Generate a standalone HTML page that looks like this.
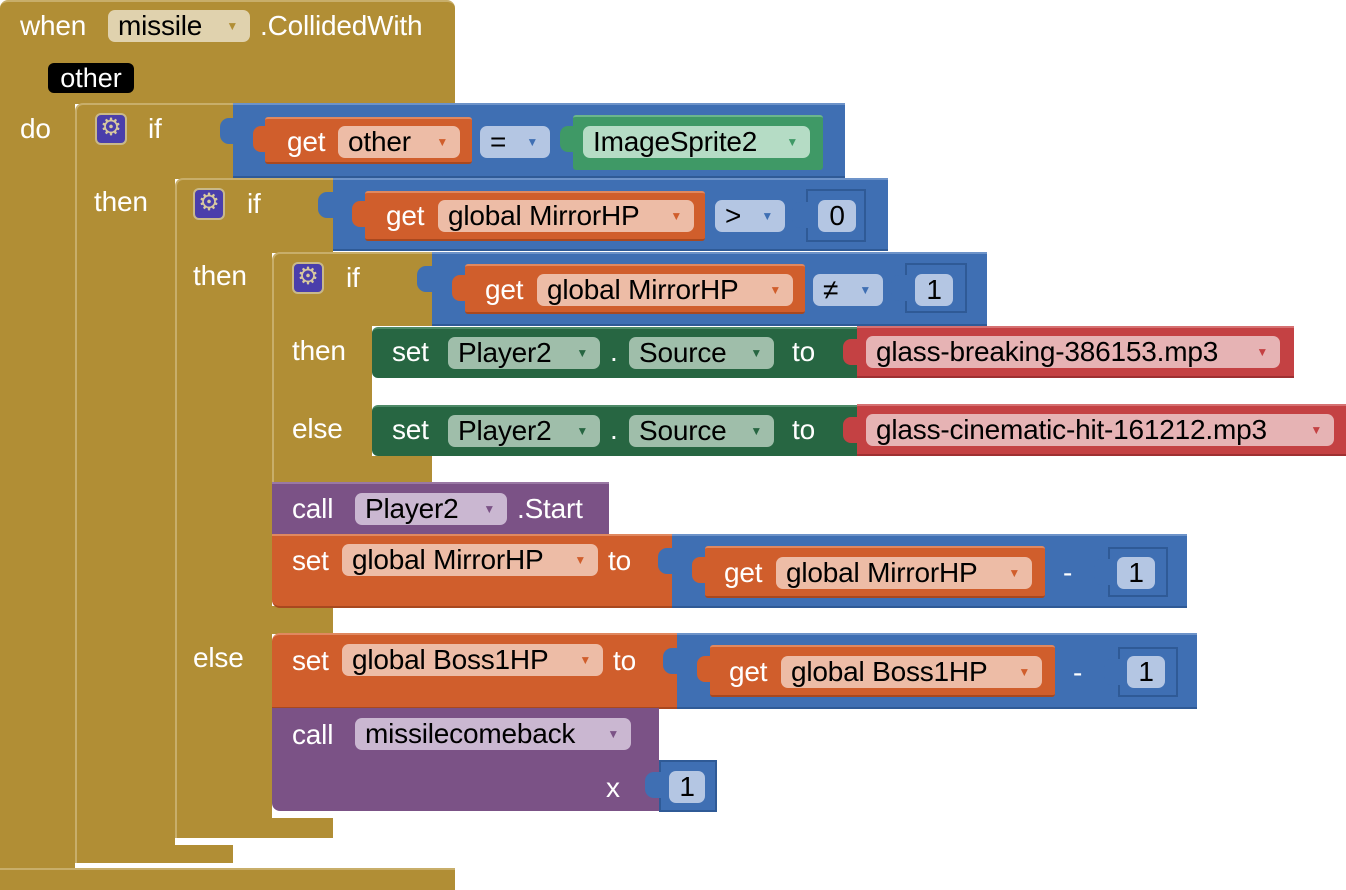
<!DOCTYPE html>
<html><head><meta charset="utf-8"><style>
body{margin:0;width:1346px;height:890px;background:#fff;position:relative;overflow:hidden;font-family:"Liberation Sans",sans-serif;}
div{position:absolute;box-sizing:border-box}
.g{background:#B18E35}
.bl{background:#3F6FB3;border-top:2px solid #6d93c9;border-bottom:2px solid #2f5a96}
.or{background:#D05E2C;border-top:2px solid #e0885f;border-bottom:2px solid #a8481f;border-radius:3px}
.gr{background:#276642;border-top:2px solid #4e8a68}
.rd{background:#C44143;border-top:2px solid #d67172;border-bottom:2px solid #9e3032}
.pu{background:#7B5286;border-top:2px solid #9a78a4}
.w{color:#fff;font-size:28px;line-height:30px;white-space:nowrap;letter-spacing:-0.2px}
.p{border-radius:7px;color:#000;font-size:28px;line-height:32px;height:32px;padding:0 10px;white-space:nowrap;letter-spacing:-0.2px}
.p i{position:absolute;right:12px;top:0;font-style:normal;font-size:12px;line-height:32px}
.gear{width:32px;height:32px;background:#4A3EAB;border:2px solid #c9b98a;border-radius:6px;color:#d8c99f;font-size:24px;line-height:26px;text-align:center}
.num{background:#3F6FB3;border:2px solid #2f5a96;}
.tb{width:16px;height:26px;background:#3F6FB3;border-radius:8px 0 0 8px}
</style></head><body>
<!-- event block -->
<div class="g" style="left:0;top:0;width:455px;height:104px;border-radius:8px 8px 0 0;border-top:2px solid #c8ae6a"></div>
<div class="g" style="left:0;top:100px;width:75px;height:790px"></div>
<div class="g" style="left:0;top:868px;width:455px;height:22px;border-top:2px solid #c8ae6a"></div>
<div class="w" style="left:20px;top:11px">when</div>
<div class="p" style="left:108px;top:10px;background:#E0D2AE;width:142px">missile<i style="color:#B18E35">▼</i></div>
<div class="w" style="left:260px;top:11px">.CollidedWith</div>
<div style="left:48px;top:63px;width:86px;height:30px;background:#000;border-radius:6px;color:#fff;font-size:27px;line-height:30px;text-align:center">other</div>
<div class="w" style="left:20px;top:114px">do</div>

<!-- if1 -->
<div class="g" style="left:75px;top:103px;width:160px;height:76px;border-radius:8px 0 0 0;border-top:2px solid #c8ae6a;border-left:2px solid #c8ae6a"></div>
<div class="g" style="left:75px;top:178px;width:100px;height:670px;border-left:2px solid #c8ae6a"></div>
<div class="g" style="left:75px;top:845px;width:158px;height:18px;border-left:2px solid #c8ae6a"></div>
<div class="gear" style="left:95px;top:113px">⚙</div>
<div class="w" style="left:148px;top:114px">if</div>
<div class="w" style="left:94px;top:187px">then</div>
<!-- if1 condition -->
<div class="bl" style="left:233px;top:103px;width:612px;height:75px"></div>
<div style="left:220px;top:118px;width:18px;height:26px;background:#3F6FB3;border-radius:9px 0 0 9px"></div>
<div class="or" style="left:265px;top:117px;width:207px;height:47px"></div>
<div style="left:253px;top:126px;width:15px;height:26px;background:#D05E2C;border-radius:8px 0 0 8px"></div>
<div class="w" style="left:287px;top:127px">get</div>
<div class="p" style="left:338px;top:126px;background:#EDBCA6;width:122px">other<i style="color:#D05E2C">▼</i></div>
<div class="p" style="left:480px;top:126px;background:#B4C6E3;width:70px">=<i style="color:#3F6FB3">▼</i></div>
<div style="left:573px;top:115px;width:250px;height:55px;background:#3F9966;border-radius:3px;border-top:2px solid #6bb68c"></div>
<div style="left:560px;top:126px;width:15px;height:26px;background:#3F9966;border-radius:8px 0 0 8px"></div>
<div class="p" style="left:583px;top:126px;background:#B5DCC5;width:227px">ImageSprite2<i style="color:#3F9966">▼</i></div>

<!-- if2 -->
<div class="g" style="left:175px;top:178px;width:158px;height:75px;border-radius:8px 0 0 0;border-top:2px solid #c8ae6a;border-left:2px solid #c8ae6a"></div>
<div class="g" style="left:175px;top:252px;width:97px;height:570px;border-left:2px solid #c8ae6a"></div>
<div class="g" style="left:272px;top:606px;width:61px;height:28px"></div>
<div class="g" style="left:175px;top:818px;width:158px;height:20px;border-left:2px solid #c8ae6a"></div>
<div class="gear" style="left:193px;top:188px">⚙</div>
<div class="w" style="left:247px;top:189px">if</div>
<div class="w" style="left:193px;top:261px">then</div>
<div class="w" style="left:193px;top:643px">else</div>
<div class="bl" style="left:333px;top:178px;width:555px;height:73px"></div>
<div style="left:318px;top:192px;width:18px;height:26px;background:#3F6FB3;border-radius:9px 0 0 9px"></div>
<div class="or" style="left:365px;top:191px;width:340px;height:50px"></div>
<div style="left:352px;top:201px;width:15px;height:26px;background:#D05E2C;border-radius:8px 0 0 8px"></div>
<div class="w" style="left:386px;top:201px">get</div>
<div class="p" style="left:438px;top:200px;background:#EDBCA6;width:256px">global MirrorHP<i style="color:#D05E2C">▼</i></div>
<div class="p" style="left:715px;top:200px;background:#B4C6E3;width:70px">&gt;<i style="color:#3F6FB3">▼</i></div>
<div class="num" style="left:806px;top:189px;width:60px;height:53px"></div>
<div class="tb" style="left:792px;top:202px"></div>
<div class="p" style="left:818px;top:200px;background:#B4C6E3;width:38px;padding:0;text-align:center">0</div>

<!-- if3 -->
<div class="g" style="left:272px;top:252px;width:160px;height:74px;border-radius:8px 0 0 0;border-top:2px solid #c8ae6a;border-left:2px solid #c8ae6a"></div>
<div class="g" style="left:272px;top:325px;width:100px;height:140px;border-left:2px solid #c8ae6a"></div>
<div class="g" style="left:272px;top:456px;width:160px;height:26px;border-left:2px solid #c8ae6a"></div>
<div class="gear" style="left:292px;top:262px">⚙</div>
<div class="w" style="left:346px;top:263px">if</div>
<div class="w" style="left:292px;top:336px">then</div>
<div class="w" style="left:292px;top:414px">else</div>
<div class="bl" style="left:432px;top:252px;width:555px;height:74px"></div>
<div style="left:417px;top:266px;width:18px;height:26px;background:#3F6FB3;border-radius:9px 0 0 9px"></div>
<div class="or" style="left:465px;top:264px;width:340px;height:50px"></div>
<div style="left:452px;top:275px;width:15px;height:26px;background:#D05E2C;border-radius:8px 0 0 8px"></div>
<div class="w" style="left:485px;top:275px">get</div>
<div class="p" style="left:537px;top:274px;background:#EDBCA6;width:256px">global MirrorHP<i style="color:#D05E2C">▼</i></div>
<div class="p" style="left:813px;top:274px;background:#B4C6E3;width:70px">≠<i style="color:#3F6FB3">▼</i></div>
<div class="num" style="left:905px;top:263px;width:62px;height:50px"></div>
<div class="tb" style="left:891px;top:275px"></div>
<div class="p" style="left:915px;top:274px;background:#B4C6E3;width:38px;padding:0;text-align:center">1</div>

<!-- then set -->
<div class="gr" style="left:372px;top:327px;width:486px;height:51px;border-radius:6px 0 0 6px"></div>
<div class="w" style="left:392px;top:337px">set</div>
<div class="p" style="left:448px;top:337px;background:#9FBEAA;width:152px">Player2<i style="color:#276642">▼</i></div>
<div class="w" style="left:610px;top:337px">.</div>
<div class="p" style="left:629px;top:337px;background:#9FBEAA;width:145px">Source<i style="color:#276642">▼</i></div>
<div class="w" style="left:792px;top:337px">to</div>
<div class="rd" style="left:857px;top:326px;width:437px;height:52px"></div>
<div style="left:843px;top:339px;width:16px;height:26px;background:#C44143;border-radius:8px 0 0 8px"></div>
<div class="p" style="left:866px;top:336px;background:#E6B3B4;width:414px">glass-breaking-386153.mp3<i style="color:#C44143">▼</i></div>
<!-- else set -->
<div class="gr" style="left:372px;top:405px;width:486px;height:51px;border-radius:6px 0 0 6px"></div>
<div class="w" style="left:392px;top:415px">set</div>
<div class="p" style="left:448px;top:415px;background:#9FBEAA;width:152px">Player2<i style="color:#276642">▼</i></div>
<div class="w" style="left:610px;top:415px">.</div>
<div class="p" style="left:629px;top:415px;background:#9FBEAA;width:145px">Source<i style="color:#276642">▼</i></div>
<div class="w" style="left:792px;top:415px">to</div>
<div class="rd" style="left:857px;top:404px;width:489px;height:52px"></div>
<div style="left:843px;top:417px;width:16px;height:26px;background:#C44143;border-radius:8px 0 0 8px"></div>
<div class="p" style="left:866px;top:414px;background:#E6B3B4;width:468px">glass-cinematic-hit-161212.mp3<i style="color:#C44143">▼</i></div>

<!-- call Player2.Start -->
<div class="pu" style="left:272px;top:482px;width:337px;height:53px"></div>
<div class="w" style="left:292px;top:494px">call</div>
<div class="p" style="left:355px;top:493px;background:#CAB7D1;width:152px">Player2<i style="color:#7B5286">▼</i></div>
<div class="w" style="left:517px;top:494px">.Start</div>
<!-- set MirrorHP -->
<div class="or" style="left:272px;top:534px;width:402px;height:74px;border-radius:0 0 0 8px"></div>
<div class="w" style="left:292px;top:546px">set</div>
<div class="p" style="left:342px;top:544px;background:#EDBCA6;width:256px">global MirrorHP<i style="color:#D05E2C">▼</i></div>
<div class="w" style="left:608px;top:546px">to</div>
<div class="bl" style="left:672px;top:534px;width:515px;height:74px"></div>
<div style="left:658px;top:548px;width:18px;height:26px;background:#3F6FB3;border-radius:9px 0 0 9px"></div>
<div class="or" style="left:705px;top:546px;width:340px;height:52px"></div>
<div style="left:692px;top:557px;width:15px;height:26px;background:#D05E2C;border-radius:8px 0 0 8px"></div>
<div class="w" style="left:724px;top:558px">get</div>
<div class="p" style="left:776px;top:557px;background:#EDBCA6;width:256px">global MirrorHP<i style="color:#D05E2C">▼</i></div>
<div class="w" style="left:1063px;top:558px">-</div>
<div class="num" style="left:1108px;top:547px;width:60px;height:50px"></div>
<div class="tb" style="left:1094px;top:559px"></div>
<div class="p" style="left:1117px;top:557px;background:#B4C6E3;width:38px;padding:0;text-align:center">1</div>
<!-- set Boss1HP -->
<div class="or" style="left:272px;top:633px;width:406px;height:76px;border-radius:8px 0 0 0"></div>
<div class="w" style="left:292px;top:646px">set</div>
<div class="p" style="left:342px;top:644px;background:#EDBCA6;width:261px">global Boss1HP<i style="color:#D05E2C">▼</i></div>
<div class="w" style="left:613px;top:646px">to</div>
<div class="bl" style="left:677px;top:633px;width:520px;height:76px"></div>
<div style="left:663px;top:648px;width:18px;height:26px;background:#3F6FB3;border-radius:9px 0 0 9px"></div>
<div class="or" style="left:710px;top:645px;width:345px;height:52px"></div>
<div style="left:697px;top:656px;width:15px;height:26px;background:#D05E2C;border-radius:8px 0 0 8px"></div>
<div class="w" style="left:729px;top:657px">get</div>
<div class="p" style="left:781px;top:656px;background:#EDBCA6;width:261px">global Boss1HP<i style="color:#D05E2C">▼</i></div>
<div class="w" style="left:1073px;top:658px">-</div>
<div class="num" style="left:1118px;top:647px;width:60px;height:50px"></div>
<div class="tb" style="left:1104px;top:659px"></div>
<div class="p" style="left:1127px;top:656px;background:#B4C6E3;width:38px;padding:0;text-align:center">1</div>
<!-- call missilecomeback -->
<div class="pu" style="left:272px;top:708px;width:387px;height:103px;border-top:none;border-radius:0 0 0 8px"></div>
<div class="w" style="left:292px;top:720px">call</div>
<div class="p" style="left:355px;top:718px;background:#CAB7D1;width:276px">missilecomeback<i style="color:#7B5286">▼</i></div>
<div class="w" style="left:606px;top:773px">x</div>
<div class="num" style="left:659px;top:760px;width:58px;height:52px"></div>
<div style="left:645px;top:772px;width:18px;height:26px;background:#3F6FB3;border-radius:9px 0 0 9px"></div>
<div class="p" style="left:669px;top:771px;background:#B4C6E3;width:36px;padding:0;text-align:center">1</div>
</body></html>
